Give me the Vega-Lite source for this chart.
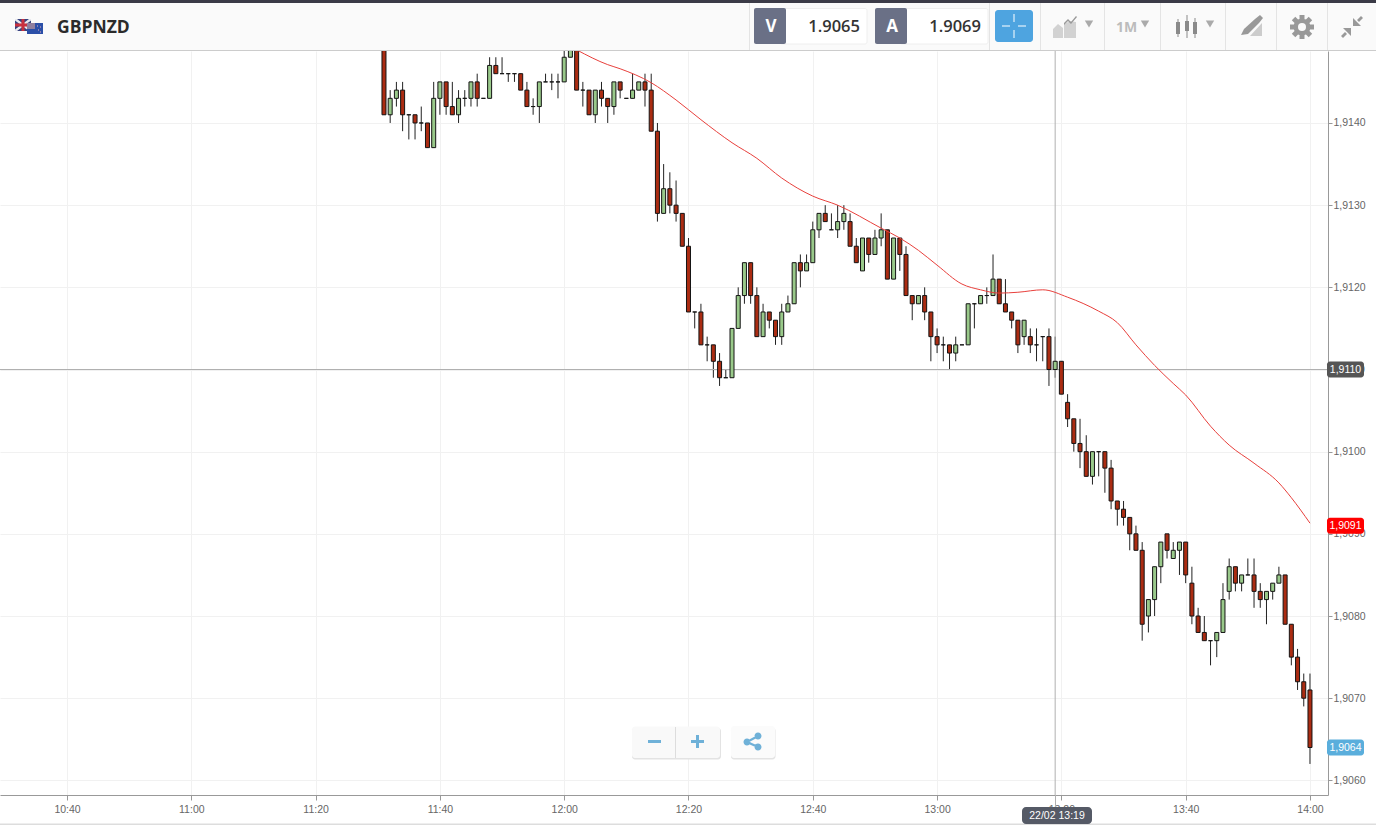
{
  "$schema": "https://vega.github.io/schema/vega-lite/v6.json",
  "width": 1328,
  "height": 744,
  "autosize": {"type": "none"},
  "padding": {"left": 0, "top": 51, "right": 48, "bottom": 30},
  "background": "#ffffff",
  "config": {"view": {"stroke": null}, "font": "Liberation Sans"},
  "datasets": {
    "candles": [
      {"t":"2017-02-22T11:31","o":1.9150,"h":1.9152,"l":1.9141,"c":1.9141},
      {"t":"2017-02-22T11:32","o":1.9141,"h":1.9144,"l":1.9140,"c":1.9143},
      {"t":"2017-02-22T11:33","o":1.9143,"h":1.9145,"l":1.9142,"c":1.9144},
      {"t":"2017-02-22T11:34","o":1.9144,"h":1.9145,"l":1.9139,"c":1.9141},
      {"t":"2017-02-22T11:35","o":1.9141,"h":1.9141,"l":1.9138,"c":1.9141},
      {"t":"2017-02-22T11:36","o":1.9141,"h":1.9141,"l":1.9138,"c":1.9140},
      {"t":"2017-02-22T11:37","o":1.9140,"h":1.9142,"l":1.9139,"c":1.9140},
      {"t":"2017-02-22T11:38","o":1.9140,"h":1.9140,"l":1.9137,"c":1.9137},
      {"t":"2017-02-22T11:39","o":1.9137,"h":1.9145,"l":1.9137,"c":1.9143},
      {"t":"2017-02-22T11:40","o":1.9143,"h":1.9145,"l":1.9141,"c":1.9145},
      {"t":"2017-02-22T11:41","o":1.9145,"h":1.9145,"l":1.9141,"c":1.9142},
      {"t":"2017-02-22T11:42","o":1.9142,"h":1.9145,"l":1.9141,"c":1.9141},
      {"t":"2017-02-22T11:43","o":1.9141,"h":1.9144,"l":1.9140,"c":1.9143},
      {"t":"2017-02-22T11:44","o":1.9143,"h":1.9144,"l":1.9142,"c":1.9143},
      {"t":"2017-02-22T11:45","o":1.9143,"h":1.9145,"l":1.9142,"c":1.9145},
      {"t":"2017-02-22T11:46","o":1.9145,"h":1.9146,"l":1.9142,"c":1.9143},
      {"t":"2017-02-22T11:47","o":1.9143,"h":1.9143,"l":1.9143,"c":1.9143},
      {"t":"2017-02-22T11:48","o":1.9143,"h":1.9148,"l":1.9143,"c":1.9147},
      {"t":"2017-02-22T11:49","o":1.9147,"h":1.9148,"l":1.9146,"c":1.9146},
      {"t":"2017-02-22T11:50","o":1.9146,"h":1.9148,"l":1.9146,"c":1.9146},
      {"t":"2017-02-22T11:51","o":1.9146,"h":1.9146,"l":1.9145,"c":1.9146},
      {"t":"2017-02-22T11:52","o":1.9146,"h":1.9146,"l":1.9145,"c":1.9146},
      {"t":"2017-02-22T11:53","o":1.9146,"h":1.9146,"l":1.9144,"c":1.9144},
      {"t":"2017-02-22T11:54","o":1.9144,"h":1.9145,"l":1.9142,"c":1.9142},
      {"t":"2017-02-22T11:55","o":1.9142,"h":1.9143,"l":1.9141,"c":1.9142},
      {"t":"2017-02-22T11:56","o":1.9142,"h":1.9145,"l":1.9140,"c":1.9145},
      {"t":"2017-02-22T11:57","o":1.9145,"h":1.9146,"l":1.9145,"c":1.9145},
      {"t":"2017-02-22T11:58","o":1.9145,"h":1.9146,"l":1.9144,"c":1.9145},
      {"t":"2017-02-22T11:59","o":1.9145,"h":1.9146,"l":1.9143,"c":1.9145},
      {"t":"2017-02-22T12:00","o":1.9145,"h":1.9149,"l":1.9145,"c":1.9148},
      {"t":"2017-02-22T12:01","o":1.9148,"h":1.9150,"l":1.9148,"c":1.9149},
      {"t":"2017-02-22T12:02","o":1.9149,"h":1.9149,"l":1.9144,"c":1.9144},
      {"t":"2017-02-22T12:03","o":1.9144,"h":1.9145,"l":1.9142,"c":1.9144},
      {"t":"2017-02-22T12:04","o":1.9144,"h":1.9144,"l":1.9141,"c":1.9141},
      {"t":"2017-02-22T12:05","o":1.9141,"h":1.9144,"l":1.9140,"c":1.9144},
      {"t":"2017-02-22T12:06","o":1.9144,"h":1.9145,"l":1.9142,"c":1.9143},
      {"t":"2017-02-22T12:07","o":1.9143,"h":1.9143,"l":1.9140,"c":1.9142},
      {"t":"2017-02-22T12:08","o":1.9142,"h":1.9145,"l":1.9141,"c":1.9145},
      {"t":"2017-02-22T12:09","o":1.9145,"h":1.9145,"l":1.9143,"c":1.9144},
      {"t":"2017-02-22T12:10","o":1.9143,"h":1.9143,"l":1.9143,"c":1.9143},
      {"t":"2017-02-22T12:11","o":1.9143,"h":1.9146,"l":1.9143,"c":1.9144},
      {"t":"2017-02-22T12:12","o":1.9144,"h":1.9145,"l":1.9144,"c":1.9145},
      {"t":"2017-02-22T12:13","o":1.9145,"h":1.9146,"l":1.9142,"c":1.9144},
      {"t":"2017-02-22T12:14","o":1.9144,"h":1.9146,"l":1.9139,"c":1.9139},
      {"t":"2017-02-22T12:15","o":1.9139,"h":1.9140,"l":1.9128,"c":1.9129},
      {"t":"2017-02-22T12:16","o":1.9129,"h":1.9135,"l":1.9129,"c":1.9132},
      {"t":"2017-02-22T12:17","o":1.9132,"h":1.9134,"l":1.9129,"c":1.9130},
      {"t":"2017-02-22T12:18","o":1.9130,"h":1.9133,"l":1.9128,"c":1.9129},
      {"t":"2017-02-22T12:19","o":1.9129,"h":1.9129,"l":1.9125,"c":1.9125},
      {"t":"2017-02-22T12:20","o":1.9125,"h":1.9126,"l":1.9117,"c":1.9117},
      {"t":"2017-02-22T12:21","o":1.9117,"h":1.9117,"l":1.9115,"c":1.9117},
      {"t":"2017-02-22T12:22","o":1.9117,"h":1.9118,"l":1.9113,"c":1.9113},
      {"t":"2017-02-22T12:23","o":1.9113,"h":1.9114,"l":1.9111,"c":1.9113},
      {"t":"2017-02-22T12:24","o":1.9113,"h":1.9113,"l":1.9109,"c":1.9111},
      {"t":"2017-02-22T12:25","o":1.9111,"h":1.9112,"l":1.9108,"c":1.9109},
      {"t":"2017-02-22T12:26","o":1.9109,"h":1.9110,"l":1.9109,"c":1.9109},
      {"t":"2017-02-22T12:27","o":1.9109,"h":1.9115,"l":1.9109,"c":1.9115},
      {"t":"2017-02-22T12:28","o":1.9115,"h":1.9120,"l":1.9115,"c":1.9119},
      {"t":"2017-02-22T12:29","o":1.9119,"h":1.9123,"l":1.9118,"c":1.9123},
      {"t":"2017-02-22T12:30","o":1.9123,"h":1.9123,"l":1.9118,"c":1.9119},
      {"t":"2017-02-22T12:31","o":1.9119,"h":1.9120,"l":1.9114,"c":1.9114},
      {"t":"2017-02-22T12:32","o":1.9114,"h":1.9118,"l":1.9114,"c":1.9117},
      {"t":"2017-02-22T12:33","o":1.9117,"h":1.9117,"l":1.9115,"c":1.9116},
      {"t":"2017-02-22T12:34","o":1.9116,"h":1.9116,"l":1.9113,"c":1.9114},
      {"t":"2017-02-22T12:35","o":1.9114,"h":1.9118,"l":1.9113,"c":1.9117},
      {"t":"2017-02-22T12:36","o":1.9117,"h":1.9119,"l":1.9117,"c":1.9118},
      {"t":"2017-02-22T12:37","o":1.9118,"h":1.9123,"l":1.9118,"c":1.9123},
      {"t":"2017-02-22T12:38","o":1.9123,"h":1.9124,"l":1.9120,"c":1.9122},
      {"t":"2017-02-22T12:39","o":1.9122,"h":1.9124,"l":1.9122,"c":1.9123},
      {"t":"2017-02-22T12:40","o":1.9123,"h":1.9128,"l":1.9123,"c":1.9127},
      {"t":"2017-02-22T12:41","o":1.9127,"h":1.9129,"l":1.9126,"c":1.9129},
      {"t":"2017-02-22T12:42","o":1.9129,"h":1.9130,"l":1.9128,"c":1.9128},
      {"t":"2017-02-22T12:43","o":1.9127,"h":1.9129,"l":1.9127,"c":1.9127},
      {"t":"2017-02-22T12:44","o":1.9127,"h":1.9130,"l":1.9126,"c":1.9128},
      {"t":"2017-02-22T12:45","o":1.9128,"h":1.9130,"l":1.9127,"c":1.9129},
      {"t":"2017-02-22T12:46","o":1.9128,"h":1.9129,"l":1.9125,"c":1.9125},
      {"t":"2017-02-22T12:47","o":1.9125,"h":1.9126,"l":1.9123,"c":1.9123},
      {"t":"2017-02-22T12:48","o":1.9122,"h":1.9126,"l":1.9122,"c":1.9126},
      {"t":"2017-02-22T12:49","o":1.9126,"h":1.9126,"l":1.9123,"c":1.9124},
      {"t":"2017-02-22T12:50","o":1.9124,"h":1.9127,"l":1.9124,"c":1.9126},
      {"t":"2017-02-22T12:51","o":1.9126,"h":1.9129,"l":1.9125,"c":1.9127},
      {"t":"2017-02-22T12:52","o":1.9127,"h":1.9127,"l":1.9121,"c":1.9121},
      {"t":"2017-02-22T12:53","o":1.9121,"h":1.9126,"l":1.9121,"c":1.9126},
      {"t":"2017-02-22T12:54","o":1.9126,"h":1.9126,"l":1.9122,"c":1.9124},
      {"t":"2017-02-22T12:55","o":1.9124,"h":1.9125,"l":1.9119,"c":1.9119},
      {"t":"2017-02-22T12:56","o":1.9119,"h":1.9119,"l":1.9116,"c":1.9118},
      {"t":"2017-02-22T12:57","o":1.9118,"h":1.9119,"l":1.9118,"c":1.9119},
      {"t":"2017-02-22T12:58","o":1.9119,"h":1.9120,"l":1.9116,"c":1.9117},
      {"t":"2017-02-22T12:59","o":1.9117,"h":1.9117,"l":1.9111,"c":1.9114},
      {"t":"2017-02-22T13:00","o":1.9114,"h":1.9115,"l":1.9112,"c":1.9113},
      {"t":"2017-02-22T13:01","o":1.9113,"h":1.9114,"l":1.9111,"c":1.9113},
      {"t":"2017-02-22T13:02","o":1.9113,"h":1.9113,"l":1.9110,"c":1.9112},
      {"t":"2017-02-22T13:03","o":1.9112,"h":1.9114,"l":1.9111,"c":1.9113},
      {"t":"2017-02-22T13:04","o":1.9113,"h":1.9113,"l":1.9113,"c":1.9113},
      {"t":"2017-02-22T13:05","o":1.9113,"h":1.9118,"l":1.9113,"c":1.9118},
      {"t":"2017-02-22T13:06","o":1.9118,"h":1.9118,"l":1.9115,"c":1.9118},
      {"t":"2017-02-22T13:07","o":1.9118,"h":1.9119,"l":1.9118,"c":1.9119},
      {"t":"2017-02-22T13:08","o":1.9119,"h":1.9120,"l":1.9118,"c":1.9119},
      {"t":"2017-02-22T13:09","o":1.9119,"h":1.9124,"l":1.9119,"c":1.9121},
      {"t":"2017-02-22T13:10","o":1.9121,"h":1.9121,"l":1.9118,"c":1.9118},
      {"t":"2017-02-22T13:11","o":1.9118,"h":1.9121,"l":1.9117,"c":1.9117},
      {"t":"2017-02-22T13:12","o":1.9117,"h":1.9117,"l":1.9115,"c":1.9116},
      {"t":"2017-02-22T13:13","o":1.9116,"h":1.9116,"l":1.9112,"c":1.9113},
      {"t":"2017-02-22T13:14","o":1.9114,"h":1.9116,"l":1.9113,"c":1.9116},
      {"t":"2017-02-22T13:15","o":1.9114,"h":1.9115,"l":1.9112,"c":1.9113},
      {"t":"2017-02-22T13:16","o":1.9113,"h":1.9115,"l":1.9111,"c":1.9113},
      {"t":"2017-02-22T13:17","o":1.9114,"h":1.9114,"l":1.9111,"c":1.9114},
      {"t":"2017-02-22T13:18","o":1.9114,"h":1.9115,"l":1.9108,"c":1.9110},
      {"t":"2017-02-22T13:19","o":1.9110,"h":1.9114,"l":1.9109,"c":1.9111},
      {"t":"2017-02-22T13:20","o":1.9111,"h":1.9111,"l":1.9107,"c":1.9107},
      {"t":"2017-02-22T13:21","o":1.9106,"h":1.9107,"l":1.9103,"c":1.9104},
      {"t":"2017-02-22T13:22","o":1.9104,"h":1.9104,"l":1.9100,"c":1.9101},
      {"t":"2017-02-22T13:23","o":1.9101,"h":1.9104,"l":1.9098,"c":1.9100},
      {"t":"2017-02-22T13:24","o":1.9100,"h":1.9102,"l":1.9097,"c":1.9097},
      {"t":"2017-02-22T13:25","o":1.9097,"h":1.9100,"l":1.9096,"c":1.9100},
      {"t":"2017-02-22T13:26","o":1.9100,"h":1.9100,"l":1.9097,"c":1.9100},
      {"t":"2017-02-22T13:27","o":1.9100,"h":1.9100,"l":1.9095,"c":1.9098},
      {"t":"2017-02-22T13:28","o":1.9098,"h":1.9099,"l":1.9093,"c":1.9094},
      {"t":"2017-02-22T13:29","o":1.9094,"h":1.9094,"l":1.9091,"c":1.9093},
      {"t":"2017-02-22T13:30","o":1.9093,"h":1.9094,"l":1.9091,"c":1.9092},
      {"t":"2017-02-22T13:31","o":1.9092,"h":1.9092,"l":1.9088,"c":1.9090},
      {"t":"2017-02-22T13:32","o":1.9090,"h":1.9091,"l":1.9088,"c":1.9088},
      {"t":"2017-02-22T13:33","o":1.9088,"h":1.9089,"l":1.9077,"c":1.9079},
      {"t":"2017-02-22T13:34","o":1.9080,"h":1.9082,"l":1.9078,"c":1.9082},
      {"t":"2017-02-22T13:35","o":1.9082,"h":1.9086,"l":1.9080,"c":1.9086},
      {"t":"2017-02-22T13:36","o":1.9086,"h":1.9089,"l":1.9084,"c":1.9089},
      {"t":"2017-02-22T13:37","o":1.9090,"h":1.9090,"l":1.9087,"c":1.9088},
      {"t":"2017-02-22T13:38","o":1.9087,"h":1.9089,"l":1.9087,"c":1.9088},
      {"t":"2017-02-22T13:39","o":1.9088,"h":1.9089,"l":1.9085,"c":1.9089},
      {"t":"2017-02-22T13:40","o":1.9089,"h":1.9089,"l":1.9084,"c":1.9085},
      {"t":"2017-02-22T13:41","o":1.9084,"h":1.9086,"l":1.9079,"c":1.9080},
      {"t":"2017-02-22T13:42","o":1.9080,"h":1.9081,"l":1.9078,"c":1.9078},
      {"t":"2017-02-22T13:43","o":1.9078,"h":1.9080,"l":1.9077,"c":1.9077},
      {"t":"2017-02-22T13:44","o":1.9077,"h":1.9077,"l":1.9074,"c":1.9077},
      {"t":"2017-02-22T13:45","o":1.9077,"h":1.9078,"l":1.9075,"c":1.9078},
      {"t":"2017-02-22T13:46","o":1.9078,"h":1.9084,"l":1.9078,"c":1.9082},
      {"t":"2017-02-22T13:47","o":1.9083,"h":1.9087,"l":1.9082,"c":1.9086},
      {"t":"2017-02-22T13:48","o":1.9086,"h":1.9086,"l":1.9083,"c":1.9084},
      {"t":"2017-02-22T13:49","o":1.9084,"h":1.9085,"l":1.9083,"c":1.9085},
      {"t":"2017-02-22T13:50","o":1.9085,"h":1.9087,"l":1.9085,"c":1.9085},
      {"t":"2017-02-22T13:51","o":1.9085,"h":1.9087,"l":1.9081,"c":1.9083},
      {"t":"2017-02-22T13:52","o":1.9083,"h":1.9084,"l":1.9081,"c":1.9082},
      {"t":"2017-02-22T13:53","o":1.9082,"h":1.9083,"l":1.9079,"c":1.9083},
      {"t":"2017-02-22T13:54","o":1.9083,"h":1.9084,"l":1.9082,"c":1.9084},
      {"t":"2017-02-22T13:55","o":1.9084,"h":1.9086,"l":1.9084,"c":1.9085},
      {"t":"2017-02-22T13:56","o":1.9085,"h":1.9085,"l":1.9079,"c":1.9079},
      {"t":"2017-02-22T13:57","o":1.9079,"h":1.9079,"l":1.9074,"c":1.9075},
      {"t":"2017-02-22T13:58","o":1.9075,"h":1.9076,"l":1.9071,"c":1.9072},
      {"t":"2017-02-22T13:59","o":1.9072,"h":1.9073,"l":1.9069,"c":1.9070},
      {"t":"2017-02-22T14:00","o":1.9071,"h":1.9073,"l":1.9062,"c":1.9064}
    ],
    "average": [
      {"t":"2017-02-22T12:02","v":1.91489},
      {"t":"2017-02-22T12:07","v":1.91471},
      {"t":"2017-02-22T12:09","v":1.91466},
      {"t":"2017-02-22T12:14","v":1.91449},
      {"t":"2017-02-22T12:18","v":1.91428},
      {"t":"2017-02-22T12:22","v":1.91404},
      {"t":"2017-02-22T12:27","v":1.91376},
      {"t":"2017-02-22T12:31","v":1.91357},
      {"t":"2017-02-22T12:35","v":1.91333},
      {"t":"2017-02-22T12:40","v":1.91311},
      {"t":"2017-02-22T12:44","v":1.91300},
      {"t":"2017-02-22T12:51","v":1.91272},
      {"t":"2017-02-22T12:54","v":1.91260},
      {"t":"2017-02-22T12:57","v":1.91245},
      {"t":"2017-02-22T13:00","v":1.91227},
      {"t":"2017-02-22T13:04","v":1.91204},
      {"t":"2017-02-22T13:07","v":1.91197},
      {"t":"2017-02-22T13:10","v":1.91193},
      {"t":"2017-02-22T13:13","v":1.91194},
      {"t":"2017-02-22T13:17","v":1.91197},
      {"t":"2017-02-22T13:21","v":1.91188},
      {"t":"2017-02-22T13:26","v":1.91171},
      {"t":"2017-02-22T13:29","v":1.91157},
      {"t":"2017-02-22T13:32","v":1.91130},
      {"t":"2017-02-22T13:35","v":1.91105},
      {"t":"2017-02-22T13:38","v":1.91083},
      {"t":"2017-02-22T13:40","v":1.91069},
      {"t":"2017-02-22T13:44","v":1.91031},
      {"t":"2017-02-22T13:47","v":1.91008},
      {"t":"2017-02-22T13:51","v":1.90986},
      {"t":"2017-02-22T13:55","v":1.90962},
      {"t":"2017-02-22T13:57","v":1.90944},
      {"t":"2017-02-22T14:00","v":1.90913}
    ],
    "tags": [
      {"price":1.9110,"label":"1,9110","kind":"crosshair"},
      {"price":1.9091,"label":"1,9091","kind":"average"},
      {"price":1.9064,"label":"1,9064","kind":"last"}
    ],
    "one": [{}]
  },
  "layer": [
    {
      "layer": [
        {
          "data": {"name": "candles"},
          "mark": {"type": "rule", "stroke": "#222222", "strokeWidth": 1, "clip": true},
          "encoding": {
            "x": {
              "field": "t", "type": "temporal", "title": null,
              "scale": {"domain": [{"year":2017,"month":2,"date":22,"hours":10,"minutes":29,"seconds":13}, {"year":2017,"month":2,"date":22,"hours":14,"minutes":2,"seconds":54}], "nice": false},
              "axis": {
                "values": [
                  {"year":2017,"month":2,"date":22,"hours":10,"minutes":40},
                  {"year":2017,"month":2,"date":22,"hours":11,"minutes":0},
                  {"year":2017,"month":2,"date":22,"hours":11,"minutes":20},
                  {"year":2017,"month":2,"date":22,"hours":11,"minutes":40},
                  {"year":2017,"month":2,"date":22,"hours":12,"minutes":0},
                  {"year":2017,"month":2,"date":22,"hours":12,"minutes":20},
                  {"year":2017,"month":2,"date":22,"hours":12,"minutes":40},
                  {"year":2017,"month":2,"date":22,"hours":13,"minutes":0},
                  {"year":2017,"month":2,"date":22,"hours":13,"minutes":20},
                  {"year":2017,"month":2,"date":22,"hours":13,"minutes":40},
                  {"year":2017,"month":2,"date":22,"hours":14,"minutes":0}
                ],
                "format": "%H:%M", "grid": true,
                "gridColor": "#f1f1f1", "domainColor": "#999999", "tickColor": "#999999", "tickSize": 5,
                "labelColor": "#666666", "labelFont": "Liberation Sans", "labelFontSize": 10.5,
                "labelPadding": 4, "labelFlush": false, "labelOverlap": false
              }
            },
            "y": {
              "field": "l", "type": "quantitative", "title": null,
              "scale": {"domain": [1.905822, 1.914876], "nice": false, "zero": false},
              "axis": {
                "orient": "right", "values": [1.906, 1.907, 1.908, 1.909, 1.91, 1.911, 1.912, 1.913, 1.914],
                "labelExpr": "replace(format(datum.value, '.4f'), '.', ',')", "grid": true,
                "gridColor": "#f1f1f1", "domainColor": "#999999", "tickColor": "#999999", "tickSize": 4,
                "labelColor": "#666666", "labelFont": "Liberation Sans", "labelFontSize": 10.5,
                "labelPadding": 1, "labelFlush": false, "labelOverlap": false
              }
            },
            "y2": {"field": "h"}
          }
        },
        {
          "data": {"name": "one"},
          "mark": {"type": "rule", "stroke": "#b0b0b0", "strokeWidth": 1},
          "encoding": {"y": {"datum": 1.911, "title": null}}
        },
        {
          "data": {"name": "one"},
          "mark": {"type": "rule", "stroke": "#b0b0b0", "strokeWidth": 1},
          "encoding": {"x": {"datum": {"year":2017,"month":2,"date":22,"hours":13,"minutes":19}, "type": "temporal", "title": null}}
        },
        {
          "data": {"name": "candles"},
          "mark": {"type": "rect", "width": 4, "stroke": "#141414", "strokeWidth": 1, "clip": true},
          "encoding": {
            "x": {"field": "t", "type": "temporal", "title": null},
            "y": {"field": "o", "type": "quantitative", "title": null},
            "y2": {"field": "c"},
            "fill": {"condition": {"test": "datum.c > datum.o", "value": "#99c98a"}, "value": "#ab2c12"}
          }
        },
        {
          "data": {"name": "average"},
          "mark": {"type": "line", "stroke": "#e8403c", "strokeWidth": 1, "interpolate": "monotone", "clip": true},
          "encoding": {
            "x": {"field": "t", "type": "temporal", "title": null},
            "y": {"field": "v", "type": "quantitative", "title": null}
          }
        }
      ]
    },
    {
      "data": {"name": "one"},
      "layer": [
        {"mark": {"type": "rect", "color": "#fafafa"}, "encoding": {
          "x": {"datum": 0, "axis": null, "scale": {"domain": [0, 1376], "range": [0, 1376], "nice": false, "zero": false}},
          "x2": {"datum": 1376},
          "y": {"datum": 0, "axis": null, "scale": {"domain": [0, 825], "range": [-51, 774], "nice": false, "zero": false}},
          "y2": {"datum": 50}
        }},
        {"mark": {"type": "rect", "color": "#3b3b47"}, "encoding": {"x": {"datum": 0, "axis": null}, "x2": {"datum": 1376}, "y": {"datum": 0, "axis": null}, "y2": {"datum": 3}}},
        {"mark": {"type": "rect", "color": "#cccccc"}, "encoding": {"x": {"datum": 0, "axis": null}, "x2": {"datum": 1376}, "y": {"datum": 50, "axis": null}, "y2": {"datum": 51}}},
        {"mark": {"type": "rect", "color": "#dddddd"}, "encoding": {"x": {"datum": 0, "axis": null}, "x2": {"datum": 1376}, "y": {"datum": 823.5, "axis": null}, "y2": {"datum": 825}}},

        {"mark": {"type": "rule", "stroke": "#e4e4e4"}, "encoding": {"x": {"datum": 749.5, "axis": null}, "y": {"datum": 3, "axis": null}, "y2": {"datum": 50}}},
        {"mark": {"type": "rule", "stroke": "#e4e4e4"}, "encoding": {"x": {"datum": 989.5, "axis": null}, "y": {"datum": 3, "axis": null}, "y2": {"datum": 50}}},
        {"mark": {"type": "rule", "stroke": "#e4e4e4"}, "encoding": {"x": {"datum": 1040.5, "axis": null}, "y": {"datum": 3, "axis": null}, "y2": {"datum": 50}}},
        {"mark": {"type": "rule", "stroke": "#e4e4e4"}, "encoding": {"x": {"datum": 1104.5, "axis": null}, "y": {"datum": 3, "axis": null}, "y2": {"datum": 50}}},
        {"mark": {"type": "rule", "stroke": "#e4e4e4"}, "encoding": {"x": {"datum": 1160.5, "axis": null}, "y": {"datum": 3, "axis": null}, "y2": {"datum": 50}}},
        {"mark": {"type": "rule", "stroke": "#e4e4e4"}, "encoding": {"x": {"datum": 1225.5, "axis": null}, "y": {"datum": 3, "axis": null}, "y2": {"datum": 50}}},
        {"mark": {"type": "rule", "stroke": "#e4e4e4"}, "encoding": {"x": {"datum": 1276.5, "axis": null}, "y": {"datum": 3, "axis": null}, "y2": {"datum": 50}}},
        {"mark": {"type": "rule", "stroke": "#e4e4e4"}, "encoding": {"x": {"datum": 1327.5, "axis": null}, "y": {"datum": 3, "axis": null}, "y2": {"datum": 50}}},

        {"mark": {"type": "rect", "color": "#35427f"}, "encoding": {"x": {"datum": 15, "axis": null}, "x2": {"datum": 31}, "y": {"datum": 19, "axis": null}, "y2": {"datum": 31}}},
        {"mark": {"type": "point", "shape": "M-8,-6L-6,-6L8,4.5L8,6L6,6L-8,-4.5ZM8,-6L8,-4.5L-6,6L-8,6L-8,4.5L6,-6Z", "size": 4, "filled": true, "color": "#e8e8ee", "opacity": 1}, "encoding": {"x": {"datum": 23, "axis": null}, "y": {"datum": 25, "axis": null}}},
        {"mark": {"type": "point", "shape": "M-1.5,-6H1.5V6H-1.5ZM-8,-1.5H8V1.5H-8Z", "size": 4, "filled": true, "color": "#c8303f", "opacity": 1}, "encoding": {"x": {"datum": 23, "axis": null}, "y": {"datum": 25, "axis": null}}},
        {"mark": {"type": "rect", "color": "#2b4fa8"}, "encoding": {"x": {"datum": 27, "axis": null}, "x2": {"datum": 43}, "y": {"datum": 23, "axis": null}, "y2": {"datum": 34}}},
        {"mark": {"type": "point", "shape": "M-8,-5.5H0V0.5H-8Z", "size": 4, "filled": true, "color": "#8f7f9f", "opacity": 1}, "encoding": {"x": {"datum": 35, "axis": null}, "y": {"datum": 28.5, "axis": null}}},
        {"mark": {"type": "point", "shape": "M2,-3h1v1h-1zM5,-2h1v1h-1zM3,1h1v1h-1zM5,3h1v1h-1z", "size": 4, "filled": true, "color": "#e8b0b8", "opacity": 1}, "encoding": {"x": {"datum": 35, "axis": null}, "y": {"datum": 28.5, "axis": null}}},
        {"mark": {"type": "text", "text": "GBPNZD", "font": "Open Sans", "fontWeight": "bold", "fontSize": 17.5, "color": "#2b2b2b", "align": "left", "baseline": "middle"}, "encoding": {"x": {"datum": 57, "axis": null}, "y": {"datum": 28, "axis": null}}},

        {"mark": {"type": "rect", "color": "#ffffff", "stroke": "#eeeeee", "cornerRadius": 2}, "encoding": {"x": {"datum": 780, "axis": null}, "x2": {"datum": 867}, "y": {"datum": 8.5, "axis": null}, "y2": {"datum": 44}}},
        {"mark": {"type": "rect", "color": "#ffffff", "stroke": "#eeeeee", "cornerRadius": 2}, "encoding": {"x": {"datum": 900, "axis": null}, "x2": {"datum": 988}, "y": {"datum": 8.5, "axis": null}, "y2": {"datum": 44}}},
        {"mark": {"type": "rect", "color": "#6a7086", "cornerRadius": 2}, "encoding": {"x": {"datum": 754, "axis": null}, "x2": {"datum": 786}, "y": {"datum": 8, "axis": null}, "y2": {"datum": 44}}},
        {"mark": {"type": "rect", "color": "#6a7086", "cornerRadius": 2}, "encoding": {"x": {"datum": 875, "axis": null}, "x2": {"datum": 907}, "y": {"datum": 8, "axis": null}, "y2": {"datum": 44}}},
        {"mark": {"type": "text", "text": "V", "font": "Open Sans", "fontWeight": "bold", "fontSize": 17, "color": "#ffffff", "align": "center", "baseline": "middle"}, "encoding": {"x": {"datum": 771, "axis": null}, "y": {"datum": 27, "axis": null}}},
        {"mark": {"type": "text", "text": "A", "font": "Open Sans", "fontWeight": "bold", "fontSize": 17, "color": "#ffffff", "align": "center", "baseline": "middle"}, "encoding": {"x": {"datum": 892, "axis": null}, "y": {"datum": 27, "axis": null}}},
        {"mark": {"type": "text", "text": "1.9065", "font": "Open Sans", "fontWeight": 600, "fontSize": 16.5, "color": "#333333", "align": "right", "baseline": "middle"}, "encoding": {"x": {"datum": 860, "axis": null}, "y": {"datum": 27, "axis": null}}},
        {"mark": {"type": "text", "text": "1.9069", "font": "Open Sans", "fontWeight": 600, "fontSize": 16.5, "color": "#333333", "align": "right", "baseline": "middle"}, "encoding": {"x": {"datum": 981, "axis": null}, "y": {"datum": 27, "axis": null}}},

        {"mark": {"type": "rect", "color": "#4ea4e0", "cornerRadius": 3}, "encoding": {"x": {"datum": 995, "axis": null}, "x2": {"datum": 1033}, "y": {"datum": 10, "axis": null}, "y2": {"datum": 42}}},
        {"mark": {"type": "point", "shape": "M-12,-0.5H-4V0.5H-12ZM4,-0.5H12V0.5H4ZM-0.5,-12H0.5V-4H-0.5ZM-0.5,4H0.5V12H-0.5Z", "size": 4, "filled": true, "color": "#ffffff", "opacity": 1}, "encoding": {"x": {"datum": 1014, "axis": null}, "y": {"datum": 26, "axis": null}}},

        {"mark": {"type": "point", "shape": "M-12,11L-12,2L-7,-3L-2,1L-2,11ZM-1,11L-1,-3L5,-6L11,-5L11,11Z", "size": 4, "filled": true, "color": "#d2d2d2", "opacity": 1}, "encoding": {"x": {"datum": 1065, "axis": null}, "y": {"datum": 27, "axis": null}}},
        {"mark": {"type": "point", "shape": "M-1,-4L3,-8L6,-5L11,-11L12,-10L6,-3L3,-6L-1,-2Z", "size": 4, "filled": true, "color": "#999999", "opacity": 1}, "encoding": {"x": {"datum": 1065, "axis": null}, "y": {"datum": 27, "axis": null}}},
        {"mark": {"type": "point", "shape": "triangle-down", "size": 70, "filled": true, "color": "#aaaaaa", "opacity": 1}, "encoding": {"x": {"datum": 1089, "axis": null}, "y": {"datum": 24, "axis": null}}},
        {"mark": {"type": "text", "text": "1M", "font": "Open Sans", "fontWeight": "bold", "fontSize": 14, "color": "#bcbcbc", "align": "left", "baseline": "middle"}, "encoding": {"x": {"datum": 1116, "axis": null}, "y": {"datum": 28, "axis": null}}},
        {"mark": {"type": "point", "shape": "triangle-down", "size": 70, "filled": true, "color": "#aaaaaa", "opacity": 1}, "encoding": {"x": {"datum": 1145, "axis": null}, "y": {"datum": 24, "axis": null}}},
        {"mark": {"type": "point", "shape": "M-11,-5H-9.5V-8H-8.5V-5H-7V7H-8.5V10H-9.5V7H-11ZM-2,-6H-0.5V-12H0.5V-6H2V4H0.5V11H-0.5V4H-2ZM6,-5H7.5V-9H8.5V-5H10V7H8.5V11H7.5V7H6Z", "size": 4, "filled": true, "color": "#8a8a8a", "opacity": 1}, "encoding": {"x": {"datum": 1187, "axis": null}, "y": {"datum": 27, "axis": null}}},
        {"mark": {"type": "point", "shape": "triangle-down", "size": 70, "filled": true, "color": "#aaaaaa", "opacity": 1}, "encoding": {"x": {"datum": 1210, "axis": null}, "y": {"datum": 24, "axis": null}}},
        {"mark": {"type": "point", "shape": "M-2,10L10,-3L10,10Z", "size": 4, "filled": true, "color": "#cccccc", "opacity": 1}, "encoding": {"x": {"datum": 1252, "axis": null}, "y": {"datum": 26, "axis": null}}},
        {"mark": {"type": "point", "shape": "M-11,9L-8,3L3,-7L8,-11L11,-8L7,-3L-4,8Z", "size": 4, "filled": true, "color": "#999999", "opacity": 1}, "encoding": {"x": {"datum": 1252, "axis": null}, "y": {"datum": 26, "axis": null}}},
        {"mark": {"type": "point", "shape": "M-2.5,-12H2.5V12H-2.5ZM-12,-2.5H12V2.5H-12ZM-10.2,-6.7L-6.7,-10.2L10.2,6.7L6.7,10.2ZM6.7,-10.2L10.2,-6.7L-6.7,10.2L-10.2,6.7ZM-8.5,0A8.5,8.5 0 1 1 8.5,0A8.5,8.5 0 1 1 -8.5,0Z", "size": 4, "filled": true, "color": "#999999", "opacity": 1}, "encoding": {"x": {"datum": 1302, "axis": null}, "y": {"datum": 27, "axis": null}}},
        {"mark": {"type": "point", "shape": "circle", "size": 64, "filled": true, "color": "#fafafa", "opacity": 1}, "encoding": {"x": {"datum": 1302, "axis": null}, "y": {"datum": 27, "axis": null}}},
        {"mark": {"type": "point", "shape": "M1,-1L1,-9L9,-1ZM5,-7L9,-11L11,-9L7,-5ZM-1,1L-1,9L-9,1ZM-5,7L-9,11L-11,9L-7,5Z", "size": 4, "filled": true, "color": "#999999", "opacity": 1}, "encoding": {"x": {"datum": 1352, "axis": null}, "y": {"datum": 27, "axis": null}}},

        {"mark": {"type": "rect", "color": "#e3e3e3", "cornerRadius": 3}, "encoding": {"x": {"datum": 632, "axis": null}, "x2": {"datum": 721}, "y": {"datum": 728, "axis": null}, "y2": {"datum": 759.5}}},
        {"mark": {"type": "rect", "color": "#f9f9f9", "cornerRadius": 3}, "encoding": {"x": {"datum": 632, "axis": null}, "x2": {"datum": 720}, "y": {"datum": 726.5, "axis": null}, "y2": {"datum": 758}}},
        {"mark": {"type": "rule", "stroke": "#dddddd"}, "encoding": {"x": {"datum": 675.5, "axis": null}, "y": {"datum": 727, "axis": null}, "y2": {"datum": 758}}},
        {"mark": {"type": "rect", "color": "#6fb1d8"}, "encoding": {"x": {"datum": 648, "axis": null}, "x2": {"datum": 661}, "y": {"datum": 740, "axis": null}, "y2": {"datum": 743}}},
        {"mark": {"type": "point", "shape": "M-6.5,-1.5H-1.5V-6.5H1.5V-1.5H6.5V1.5H1.5V6.5H-1.5V1.5H-6.5Z", "size": 4, "filled": true, "color": "#6fb1d8", "opacity": 1}, "encoding": {"x": {"datum": 697.5, "axis": null}, "y": {"datum": 741.5, "axis": null}}},
        {"mark": {"type": "rect", "color": "#e3e3e3", "cornerRadius": 3}, "encoding": {"x": {"datum": 731, "axis": null}, "x2": {"datum": 775.5}, "y": {"datum": 727.5, "axis": null}, "y2": {"datum": 759.5}}},
        {"mark": {"type": "rect", "color": "#fbfbfb", "cornerRadius": 3}, "encoding": {"x": {"datum": 731, "axis": null}, "x2": {"datum": 775}, "y": {"datum": 726, "axis": null}, "y2": {"datum": 758}}},
        {"mark": {"type": "point", "shape": "M-9.5,0A3.5,3.5 0 1 1 -2.5,0A3.5,3.5 0 1 1 -9.5,0ZM1.5,-6A3.5,3.5 0 1 1 8.5,-6A3.5,3.5 0 1 1 1.5,-6ZM1.5,5A3.5,3.5 0 1 1 8.5,5A3.5,3.5 0 1 1 1.5,5ZM-6.5,-1L4.5,-7L5.5,-5L-5.5,1ZM-5.5,-1L5.5,4L4.5,6L-6.5,1Z", "size": 4, "filled": true, "color": "#6fb1d8", "opacity": 1}, "encoding": {"x": {"datum": 753, "axis": null}, "y": {"datum": 742, "axis": null}}},

        {"mark": {"type": "rule", "stroke": "#b0b0b0"}, "encoding": {"x": {"datum": 1055.5, "axis": null}, "y": {"datum": 795, "axis": null}, "y2": {"datum": 807}}},
        {"mark": {"type": "rect", "color": "#555a66", "cornerRadius": 4}, "encoding": {"x": {"datum": 1022, "axis": null}, "x2": {"datum": 1092}, "y": {"datum": 807, "axis": null}, "y2": {"datum": 824}}},
        {"mark": {"type": "text", "text": "22/02 13:19", "fontSize": 10.5, "color": "#ffffff", "align": "center", "baseline": "middle"}, "encoding": {"x": {"datum": 1057, "axis": null}, "y": {"datum": 816, "axis": null}}}
      ]
    },
    {
      "data": {"name": "tags"},
      "layer": [
        {
          "mark": {"type": "rect", "height": 16, "cornerRadius": 3},
          "encoding": {
            "x": {"datum": 1327, "axis": null, "scale": {"domain": [0, 1376], "range": [0, 1376], "nice": false, "zero": false}},
            "x2": {"datum": 1364},
            "y": {"field": "price", "type": "quantitative", "axis": null, "scale": {"domain": [1.905822, 1.914876], "nice": false, "zero": false}},
            "fill": {
              "field": "kind", "type": "nominal", "legend": null,
              "scale": {"domain": ["crosshair", "average", "last"], "range": ["#555555", "#ff0000", "#5aaedc"]}
            }
          }
        },
        {
          "mark": {"type": "text", "color": "#ffffff", "fontSize": 10.5, "align": "center", "baseline": "middle"},
          "encoding": {
            "x": {"datum": 1345.5, "axis": null},
            "y": {"field": "price", "type": "quantitative", "axis": null},
            "text": {"field": "label"}
          }
        }
      ]
    }
  ],
  "resolve": {"scale": {"x": "independent", "y": "independent"}}
}
